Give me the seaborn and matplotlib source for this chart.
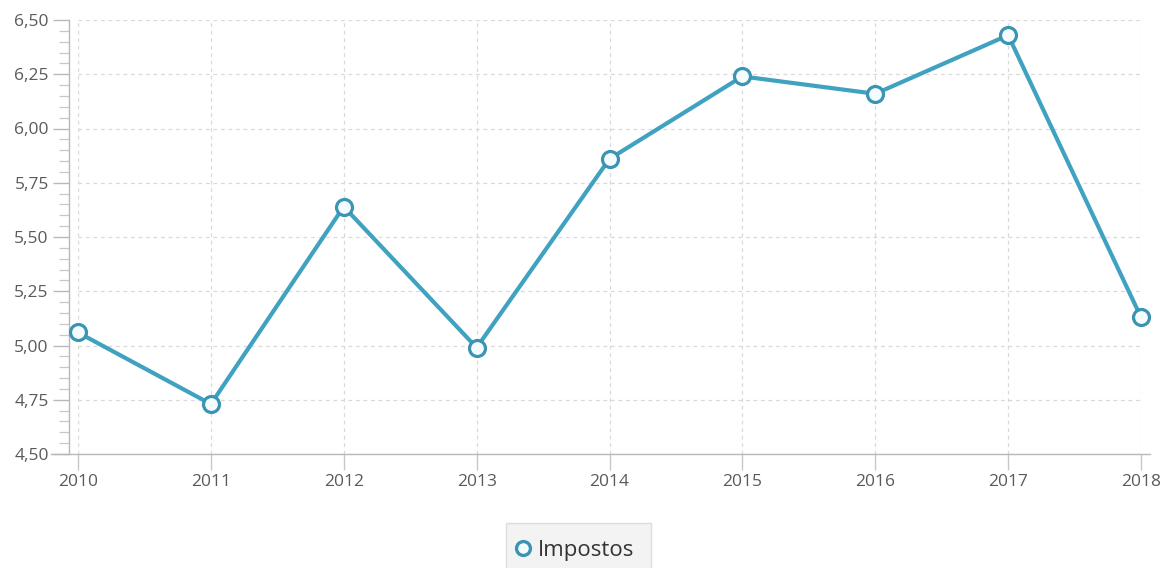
import matplotlib
matplotlib.use("Agg")
import matplotlib.pyplot as plt
import seaborn as sns
import pandas as pd
from matplotlib.ticker import FixedLocator, MultipleLocator, FuncFormatter

# Tax series by year
years = [2010, 2011, 2012, 2013, 2014, 2015, 2016, 2017, 2018]
impostos = [5.06, 4.73, 5.64, 4.99, 5.86, 6.24, 6.16, 6.43, 5.13]
series_name = "Impostos"
y_ticks = [4.50, 4.75, 5.00, 5.25, 5.50, 5.75, 6.00, 6.25, 6.50]

df = pd.DataFrame({"Ano": years, "Valor": impostos, "Serie": series_name})

sns.set_theme(style="white")
plt.rcParams["font.family"] = ["Open Sans", "DejaVu Sans"]

W, H = 1160, 568
fig = plt.figure(figsize=(W / 100, H / 100), dpi=100)
ax = fig.add_axes([78 / W, 1 - 454 / H, (1141 - 78) / W, (454 - 20) / H])

line_color = "#40a2c1"
sns.lineplot(
    data=df, x="Ano", y="Valor", hue="Serie", palette=[line_color],
    marker="o", markersize=11.5, markerfacecolor="#f4fcff",
    markeredgecolor="#3b95b2", markeredgewidth=2.3, linewidth=3.0,
    ax=ax, legend=True, clip_on=False, zorder=5,
)

ax.set_xlim(years[0], years[-1])
ax.set_ylim(y_ticks[0], y_ticks[-1])
ax.xaxis.set_major_locator(FixedLocator(years))
ax.yaxis.set_major_locator(FixedLocator(y_ticks))
ax.yaxis.set_minor_locator(MultipleLocator(0.05))
ax.yaxis.set_major_formatter(FuncFormatter(lambda v, p: f"{v:.2f}".replace(".", ",")))
ax.set_xlabel("")
ax.set_ylabel("")

# dashed grid
ax.grid(True, which="major", axis="both", color="#d9d9d9", linestyle=(0, (3, 3)), linewidth=0.9)
ax.set_axisbelow(True)

# spines
axis_col = "#b8b8b8"
for s in ("top", "right"):
    ax.spines[s].set_visible(False)
ax.spines["left"].set_position(("outward", 6.5))
ax.spines["left"].set_color(axis_col)
ax.spines["left"].set_linewidth(1.0)
px = (1141 - 78) / (years[-1] - years[0])
ax.spines["bottom"].set_color(axis_col)
ax.spines["bottom"].set_linewidth(1.0)
ax.spines["bottom"].set_bounds(years[0] - 27 / px, years[-1] + 9 / px)

label_col = "#5a5a5a"
ax.tick_params(axis="y", which="major", direction="out", length=11.5, width=1.0,
               color=axis_col, labelsize=12.5, labelcolor=label_col, pad=3, left=True)
ax.tick_params(axis="y", which="minor", direction="out", length=7, width=0.9,
               color="#c8c8c8", left=True)
ax.tick_params(axis="x", which="major", direction="out", length=11.5, width=1.0,
               color="#c8c8c8", labelsize=12.5, labelcolor=label_col, pad=3, bottom=True)

# legend at the bottom centre
handles, labels = ax.get_legend_handles_labels()
ax.get_legend().remove()
for h in handles:
    h.set_markersize(10)
    h.set_markeredgewidth(2.4)
leg = fig.legend(
    handles, labels, loc="upper center", bbox_to_anchor=(578.5 / W, 1 - 523 / H),
    borderaxespad=0.0, frameon=True, fontsize=16, handlelength=0.0,
    handletextpad=0.65, borderpad=0.75, fancybox=False,
)
for t in leg.get_texts():
    t.set_color("#333333")
for h in leg.legend_handles:
    h.set_linestyle("none")
fr = leg.get_frame()
fr.set_facecolor("#f3f3f3")
fr.set_edgecolor("#dddddd")
fr.set_alpha(1.0)

fig.savefig("out.png", dpi=100)
